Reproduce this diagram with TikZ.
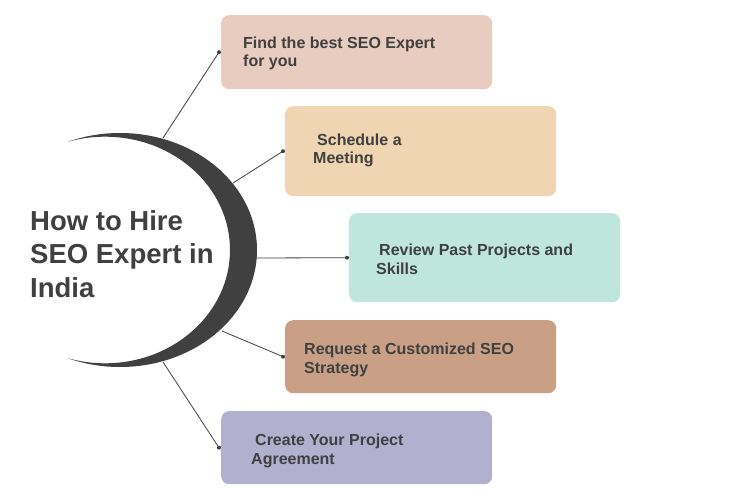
\documentclass[tikz,border=0pt]{standalone}
\usepackage{fontspec}
\setmainfont{Liberation Sans}
\definecolor{ink}{HTML}{404040}
\definecolor{boxA}{HTML}{E8CCC0}
\definecolor{boxB}{HTML}{EFD5B1}
\definecolor{boxC}{HTML}{BEE6DC}
\definecolor{boxD}{HTML}{C9A085}
\definecolor{boxE}{HTML}{B1B0CF}
\begin{document}
\begin{tikzpicture}[x=1pt,y=-1pt,
  box/.style={rounded corners=8pt, inner sep=0pt, anchor=north west, minimum width=271pt},
  lbl/.style={font=\bfseries\fontsize{16}{18.8}\selectfont, text=ink, align=left, anchor=base west, inner sep=0pt},
  conn/.style={draw=ink, line width=0.8pt},
  dotmark/.style={fill=ink}]
\useasboundingbox[fill=white] (0,0) rectangle (750,500);

% boxes
\node[box, fill=boxA, minimum height=74pt] (b1) at (221,15) {};
\node[box, fill=boxB, minimum height=90pt] (b2) at (285,106) {};
\node[box, fill=boxC, minimum height=89pt] (b3) at (349,213) {};
\node[box, fill=boxD, minimum height=73pt] (b4) at (285,320) {};
\node[box, fill=boxE, minimum height=73pt] (b5) at (221,411) {};

% connector start points on the crescent
\coordinate (c1) at (163,138);
\coordinate (c2) at (233,183);
\coordinate (c3) at (255,258);
\coordinate (c4) at (222,331);
\coordinate (c5) at (163,362);

\draw[conn] (c1) -- ([xshift=-2pt]b1.west) coordinate (d1);
\draw[conn] (c2) -- ([xshift=-2pt]b2.west) coordinate (d2);
\draw[conn] (c3) -- ([xshift=-2pt]b3.west) coordinate (d3);
\draw[conn] (c4) -- ([xshift=-2pt]b4.west) coordinate (d4);
\draw[conn] (c5) -- ([xshift=-2pt]b5.west) coordinate (d5);
\foreach \d in {d1,d2,d3,d4,d5} \fill[dotmark] (\d) circle (2pt);

% crescent
\begin{scope}
\clip (68,0) rectangle (300,500);
\fill[ink, even odd rule] (120,250) ellipse [x radius=137pt, y radius=117pt]
  (105,250) ellipse [x radius=125pt, y radius=113.3pt];
\end{scope}

% title (base anchor = last line)
\node[font=\bfseries\fontsize{27.5}{33.5}\selectfont, text=ink, align=left, anchor=base west, inner sep=0pt] (title) at (30,297) {How to Hire\\SEO Expert in\\India};

% labels (base anchor = last line)
\node[lbl] (t1) at (243,67) {Find the best SEO Expert\\for you};
\node[lbl] (t2) at (313,164) {\hspace*{4pt}Schedule a\\Meeting};
\node[lbl] (t3) at (376,274) {\hspace*{3pt}Review Past Projects and\\Skills};
\node[lbl] (t4) at (304,373) {Request a Customized SEO\\Strategy};
\node[lbl] (t5) at (251,464) {\hspace*{4pt}Create Your Project\\Agreement};
\end{tikzpicture}
\end{document}
